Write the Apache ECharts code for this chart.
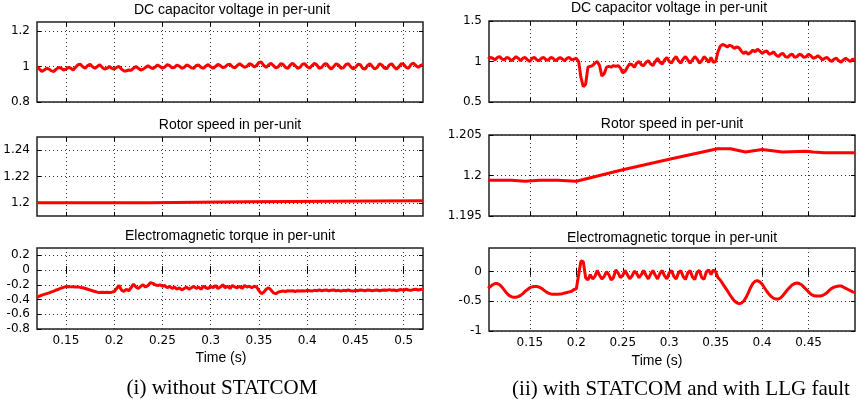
<!DOCTYPE html>
<html>
<head>
<meta charset="utf-8">
<script src="https://cdn.jsdelivr.net/npm/echarts@6/dist/echarts.min.js"></script>
<style>
  html, body { margin: 0; padding: 0; background: #fff; }
  #fig { width: 858px; height: 399px; }
</style>
</head>
<body>
<div id="fig"></div>
<script>
// time samples (s), left column: without STATCOM
const tL = [
  0.12,0.1225,0.125,0.1275,0.13,0.1325,0.135,0.1375,0.14,0.1425,
  0.145,0.1475,0.15,0.1525,0.155,0.1575,0.16,0.1625,0.165,0.1675,
  0.17,0.1725,0.175,0.1775,0.18,0.1825,0.185,0.1875,0.19,0.1925,
  0.195,0.1975,0.2,0.2025,0.205,0.2075,0.21,0.2125,0.215,0.2175,
  0.22,0.2225,0.225,0.2275,0.23,0.2325,0.235,0.2375,0.24,0.2425,
  0.245,0.2475,0.25,0.2525,0.255,0.2575,0.26,0.2625,0.265,0.2675,
  0.27,0.2725,0.275,0.2775,0.28,0.2825,0.285,0.2875,0.29,0.2925,
  0.295,0.2975,0.3,0.3025,0.305,0.3075,0.31,0.3125,0.315,0.3175,
  0.32,0.3225,0.325,0.3275,0.33,0.3325,0.335,0.3375,0.34,0.3425,
  0.345,0.3475,0.35,0.3525,0.355,0.3575,0.36,0.3625,0.365,0.3675,
  0.37,0.3725,0.375,0.3775,0.38,0.3825,0.385,0.3875,0.39,0.3925,
  0.395,0.3975,0.4,0.4025,0.405,0.4075,0.41,0.4125,0.415,0.4175,
  0.42,0.4225,0.425,0.4275,0.43,0.4325,0.435,0.4375,0.44,0.4425,
  0.445,0.4475,0.45,0.4525,0.455,0.4575,0.46,0.4625,0.465,0.4675,
  0.47,0.4725,0.475,0.4775,0.48,0.4825,0.485,0.4875,0.49,0.4925,
  0.495,0.4975,0.5,0.5025,0.505,0.5075,0.51,0.5125,0.515,0.5175,
  0.52
];
const vdcL = [
  1.00,0.985,0.972,0.98,0.99,0.985,0.975,0.972,0.985,0.995,
  0.99,0.98,0.985,0.995,0.99,0.98,0.995,1.01,1.012,0.998,
  0.99,1.005,1.012,0.998,0.99,1.0,1.01,0.995,0.985,0.99,
  1.0,0.99,0.985,0.995,1.0,0.985,0.975,0.975,0.98,0.978,
  0.99,1.0,0.99,0.98,0.985,0.995,1.003,0.995,0.988,0.997,
  1.008,1.0,0.99,0.997,1.01,1.005,0.992,0.995,1.008,1.002,
  0.99,0.995,1.008,1.003,0.992,0.99,1.005,1.008,0.995,0.99,
  1.002,1.01,0.998,0.99,1.0,1.012,1.005,0.993,0.998,1.01,
  1.012,0.998,0.992,1.005,1.015,1.005,0.995,1.0,1.015,1.01,
  0.998,1.005,1.022,1.025,1.005,0.995,1.008,1.018,1.005,0.992,
  0.998,1.015,1.012,0.995,0.99,1.008,1.018,1.005,0.99,0.995,
  1.012,1.015,0.998,0.99,1.005,1.018,1.008,0.99,0.995,1.012,
  1.015,0.998,0.985,1.0,1.015,1.008,0.99,0.992,1.01,1.016,
  1.0,0.985,0.995,1.012,1.01,0.99,0.985,1.005,1.015,1.0,
  0.985,0.995,1.015,1.008,0.99,0.988,1.008,1.015,0.998,0.985,
  0.998,1.015,1.012,0.995,0.99,1.01,1.02,1.005,0.995,1.005,
  1.012
];
const tqL = [
  -0.37,-0.355,-0.34,-0.33,-0.32,-0.31,-0.295,-0.285,-0.27,-0.26,
  -0.245,-0.235,-0.225,-0.222,-0.228,-0.225,-0.23,-0.228,-0.235,-0.24,
  -0.25,-0.26,-0.27,-0.28,-0.29,-0.3,-0.305,-0.3,-0.305,-0.3,
  -0.305,-0.3,-0.29,-0.25,-0.21,-0.27,-0.29,-0.26,-0.28,-0.24,
  -0.19,-0.23,-0.25,-0.22,-0.2,-0.23,-0.21,-0.17,-0.18,-0.2,
  -0.21,-0.2,-0.22,-0.21,-0.24,-0.22,-0.25,-0.23,-0.26,-0.24,
  -0.27,-0.25,-0.23,-0.26,-0.24,-0.22,-0.25,-0.23,-0.26,-0.22,
  -0.24,-0.25,-0.22,-0.24,-0.21,-0.25,-0.23,-0.2,-0.24,-0.22,
  -0.25,-0.21,-0.23,-0.24,-0.22,-0.25,-0.21,-0.23,-0.22,-0.24,
  -0.22,-0.23,-0.28,-0.32,-0.3,-0.26,-0.24,-0.27,-0.31,-0.32,
  -0.3,-0.29,-0.285,-0.29,-0.28,-0.285,-0.28,-0.29,-0.28,-0.285,
  -0.28,-0.285,-0.275,-0.28,-0.285,-0.275,-0.28,-0.27,-0.28,-0.275,
  -0.27,-0.28,-0.275,-0.27,-0.28,-0.275,-0.285,-0.275,-0.28,-0.27,
  -0.28,-0.285,-0.275,-0.28,-0.27,-0.275,-0.28,-0.27,-0.275,-0.28,
  -0.275,-0.27,-0.28,-0.275,-0.27,-0.275,-0.265,-0.275,-0.27,-0.28,
  -0.27,-0.265,-0.275,-0.26,-0.27,-0.275,-0.265,-0.26,-0.27,-0.265,
  -0.26
];
const tWL = [0.12, 0.236, 0.237, 0.338, 0.339, 0.52];
const wL = [1.2, 1.2, 1.2008, 1.2008, 1.2015, 1.2015];

// time samples (s), right column: with STATCOM and LLG fault
const tR = [
  0.105,0.1075,0.11,0.1125,0.115,0.1175,0.12,0.1225,0.125,0.1275,
  0.13,0.1325,0.135,0.1375,0.14,0.1425,0.145,0.1475,0.15,0.1525,
  0.155,0.1575,0.16,0.1625,0.165,0.1675,0.17,0.1725,0.175,0.1775,
  0.18,0.1825,0.185,0.1875,0.19,0.1925,0.195,0.1975,0.2,0.2025,
  0.205,0.2075,0.21,0.2125,0.215,0.2175,0.22,0.2225,0.225,0.2275,
  0.23,0.2325,0.235,0.2375,0.24,0.2425,0.245,0.2475,0.25,0.2525,
  0.255,0.2575,0.26,0.2625,0.265,0.2675,0.27,0.2725,0.275,0.2775,
  0.28,0.2825,0.285,0.2875,0.29,0.2925,0.295,0.2975,0.3,0.3025,
  0.305,0.3075,0.31,0.3125,0.315,0.3175,0.32,0.3225,0.325,0.3275,
  0.33,0.3325,0.335,0.3375,0.34,0.3425,0.345,0.3475,0.35,0.3525,
  0.355,0.3575,0.36,0.3625,0.365,0.3675,0.37,0.3725,0.375,0.3775,
  0.38,0.3825,0.385,0.3875,0.39,0.3925,0.395,0.3975,0.4,0.4025,
  0.405,0.4075,0.41,0.4125,0.415,0.4175,0.42,0.4225,0.425,0.4275,
  0.43,0.4325,0.435,0.4375,0.44,0.4425,0.445,0.4475,0.45,0.4525,
  0.455,0.4575,0.46,0.4625,0.465,0.4675,0.47,0.4725,0.475,0.4775,
  0.48,0.4825,0.485,0.4875,0.49,0.4925,0.495,0.4975,0.5
];
const vdcR = [
  1.03,1.05,1.04,1.02,1.05,1.06,1.03,1.02,1.05,1.04,
  1.01,1.03,1.06,1.04,1.01,1.04,1.05,1.02,1.0,1.04,
  1.05,1.02,1.01,1.04,1.05,1.02,1.02,1.05,1.04,1.01,
  1.03,1.05,1.03,1.01,1.04,1.05,1.02,1.03,1.04,1.0,
  0.8,0.69,0.72,0.93,0.94,0.95,0.98,1.0,0.95,0.82,
  0.85,0.93,0.94,0.93,0.95,0.94,0.95,0.92,0.86,0.88,
  0.93,0.97,0.96,0.93,0.98,1.0,0.96,0.95,0.99,1.01,
  0.97,0.95,1.0,1.04,0.99,0.97,1.02,1.05,1.0,0.98,
  1.03,1.06,1.01,0.98,1.03,1.06,1.02,0.98,1.02,1.06,
  1.03,0.98,1.01,1.06,1.03,0.99,1.05,0.99,1.0,1.12,
  1.19,1.21,1.2,1.18,1.2,1.19,1.16,1.18,1.17,1.13,
  1.1,1.12,1.09,1.11,1.14,1.12,1.15,1.13,1.1,1.12,
  1.13,1.09,1.1,1.12,1.08,1.06,1.09,1.1,1.06,1.05,
  1.08,1.09,1.05,1.06,1.09,1.08,1.05,1.06,1.09,1.07,
  1.04,1.05,1.07,1.05,1.02,1.04,1.05,1.02,1.0,1.03,
  1.04,1.01,0.99,1.02,1.04,1.02,1.0,1.03,1.01
];
const tqR = [
  -0.28,-0.25,-0.22,-0.2,-0.2,-0.22,-0.26,-0.31,-0.36,-0.4,
  -0.42,-0.43,-0.43,-0.42,-0.4,-0.37,-0.33,-0.3,-0.27,-0.255,
  -0.25,-0.25,-0.26,-0.28,-0.31,-0.34,-0.36,-0.375,-0.38,-0.38,
  -0.38,-0.375,-0.37,-0.36,-0.35,-0.34,-0.33,-0.3,-0.29,-0.05,
  0.18,0.17,-0.1,-0.14,-0.05,-0.12,-0.08,0.02,-0.06,-0.12,
  -0.08,0.0,-0.05,-0.14,-0.1,0.03,-0.02,-0.1,-0.06,0.02,
  -0.05,-0.12,-0.07,0.01,-0.03,-0.1,-0.05,0.02,-0.06,-0.12,
  -0.04,0.02,-0.06,-0.12,-0.03,0.02,-0.07,-0.12,-0.02,0.02,
  -0.08,-0.12,-0.02,0.02,-0.08,-0.13,-0.02,0.02,-0.09,-0.13,
  -0.01,0.02,-0.1,-0.13,0.0,0.03,-0.05,0.03,0.0,-0.1,
  -0.14,-0.2,-0.26,-0.32,-0.38,-0.44,-0.49,-0.52,-0.54,-0.53,
  -0.5,-0.44,-0.36,-0.27,-0.2,-0.16,-0.15,-0.17,-0.21,-0.27,
  -0.33,-0.38,-0.42,-0.45,-0.46,-0.46,-0.44,-0.4,-0.35,-0.3,
  -0.26,-0.22,-0.2,-0.19,-0.2,-0.22,-0.26,-0.3,-0.34,-0.38,
  -0.4,-0.41,-0.41,-0.41,-0.4,-0.38,-0.35,-0.31,-0.28,-0.26,
  -0.25,-0.24,-0.24,-0.26,-0.28,-0.3,-0.32,-0.34,-0.35
];
const tWR = [0.105, 0.13, 0.145, 0.16, 0.18, 0.2, 0.25, 0.3, 0.352, 0.366, 0.382, 0.4, 0.422, 0.447, 0.455, 0.467, 0.5];
const wR = [1.1994, 1.1994, 1.1993, 1.1994, 1.1994, 1.1993, 1.2007, 1.2020, 1.2033, 1.2033, 1.2029, 1.2032, 1.2029, 1.2030, 1.2029, 1.2028, 1.2028];

// tick values
const xTicksL = [0.15, 0.2, 0.25, 0.3, 0.35, 0.4, 0.45, 0.5];
const xTicksR = [0.15, 0.2, 0.25, 0.3, 0.35, 0.4, 0.45];
const yTicksDcL = [0.8, 1, 1.2];
const yTicksWL = [1.2, 1.22, 1.24];
const yTicksTqL = [-0.8, -0.6, -0.4, -0.2, 0, 0.2];
const yTicksDcR = [0.5, 1, 1.5];
const yTicksWR = [1.195, 1.2, 1.205];
const yTicksTqR = [-1, -0.5, 0];

const titles = ['DC capacitor voltage in per-unit', 'Rotor speed in per-unit', 'Electromagnetic torque in per-unit'];
const captions = ['(i) without STATCOM', '(ii) with STATCOM and with LLG fault'];

(function() {
  const chart = echarts.init(document.getElementById('fig'));

  const panels = [
    { box: {left: 37, top: 22, width: 386, height: 80}, xr: [0.12, 0.52], xt: xTicksL, yr: [0.8, 1.25], yt: yTicksDcL, t: tL, v: vdcL, xlab: false },
    { box: {left: 37, top: 137, width: 386, height: 79}, xr: [0.12, 0.52], xt: xTicksL, yr: [1.19, 1.25], yt: yTicksWL, t: tWL, v: wL, xlab: false },
    { box: {left: 37, top: 248, width: 386, height: 81}, xr: [0.12, 0.52], xt: xTicksL, yr: [-0.8, 0.3], yt: yTicksTqL, t: tL, v: tqL, xlab: true },
    { box: {left: 489, top: 21, width: 366, height: 81}, xr: [0.106, 0.5], xt: xTicksR, yr: [0.5, 1.5], yt: yTicksDcR, t: tR, v: vdcR, xlab: false },
    { box: {left: 489, top: 135, width: 366, height: 81}, xr: [0.106, 0.5], xt: xTicksR, yr: [1.195, 1.205], yt: yTicksWR, t: tWR, v: wR, xlab: false },
    { box: {left: 489, top: 248, width: 366, height: 83}, xr: [0.106, 0.5], xt: xTicksR, yr: [-1, 0.4], yt: yTicksTqR, t: tR, v: tqR, xlab: true }
  ];

  const fmt = v => String(Math.round(v * 100000) / 100000);
  const tickFont = { fontFamily: 'DejaVu Sans', fontSize: 12, color: '#000' };
  const dotted = { color: '#333', width: 1, type: [1, 3] };
  const tick = vals => ({ inside: true, length: 4, customValues: vals, lineStyle: { color: '#000', width: 1 } });

  const grid = [], xAxis = [], yAxis = [], series = [];
  panels.forEach((p, i) => {
    grid.push(Object.assign({ show: true, borderColor: '#222', borderWidth: 1.5, outerBoundsMode: 'none' }, p.box));
    xAxis.push({
      gridIndex: i, type: 'value', min: p.xr[0], max: p.xr[1],
      axisLine: { show: false }, axisTick: tick(p.xt),
      axisLabel: Object.assign({ show: p.xlab, customValues: p.xt, formatter: fmt, margin: 6 }, tickFont),
      splitLine: { show: true, lineStyle: dotted }
    });
    xAxis.push({
      gridIndex: i, type: 'value', position: 'top', min: p.xr[0], max: p.xr[1],
      axisLine: { show: false }, axisTick: tick(p.xt), axisLabel: { show: false }, splitLine: { show: false }
    });
    yAxis.push({
      gridIndex: i, type: 'value', min: p.yr[0], max: p.yr[1],
      axisLine: { show: false }, axisTick: tick(p.yt),
      axisLabel: Object.assign({ customValues: p.yt, formatter: fmt, margin: 7 }, tickFont),
      splitLine: { show: true, lineStyle: dotted }
    });
    yAxis.push({
      gridIndex: i, type: 'value', position: 'right', min: p.yr[0], max: p.yr[1],
      axisLine: { show: false }, axisTick: tick(p.yt), axisLabel: { show: false }, splitLine: { show: false }
    });
    series.push({
      type: 'line', xAxisIndex: 2 * i, yAxisIndex: 2 * i,
      data: p.t.map((t, k) => [t, p.v[k]]),
      symbol: 'none', clip: true, silent: true,
      lineStyle: { color: '#ff0000', width: 3 }
    });
  });

  const sans = 'Liberation Sans, Arial, sans-serif';
  const serif = 'Liberation Serif, Times New Roman, serif';
  const label = (x, y, text, size, font) => ({
    type: 'text', x: x, y: y,
    style: { text: text, fill: '#000', font: size + 'px ' + font, textAlign: 'center', textVerticalAlign: 'middle' }
  });

  const graphic = [
    label(232, 10, titles[0], 14, sans),
    label(230, 125, titles[1], 14, sans),
    label(230, 236, titles[2], 14, sans),
    label(669, 8, titles[0], 14, sans),
    label(672, 124, titles[1], 14, sans),
    label(672, 238, titles[2], 14, sans),
    label(221, 358, 'Time (s)', 14, sans),
    label(657, 361, 'Time (s)', 14, sans),
    label(222, 388, captions[0], 21, serif),
    label(681, 389, captions[1], 21, serif)
  ];

  chart.setOption({
    animation: false,
    backgroundColor: '#fff',
    grid: grid,
    xAxis: xAxis,
    yAxis: yAxis,
    series: series,
    graphic: graphic
  });
  window.addEventListener('resize', () => chart.resize());
})();
</script>
</body>
</html>
